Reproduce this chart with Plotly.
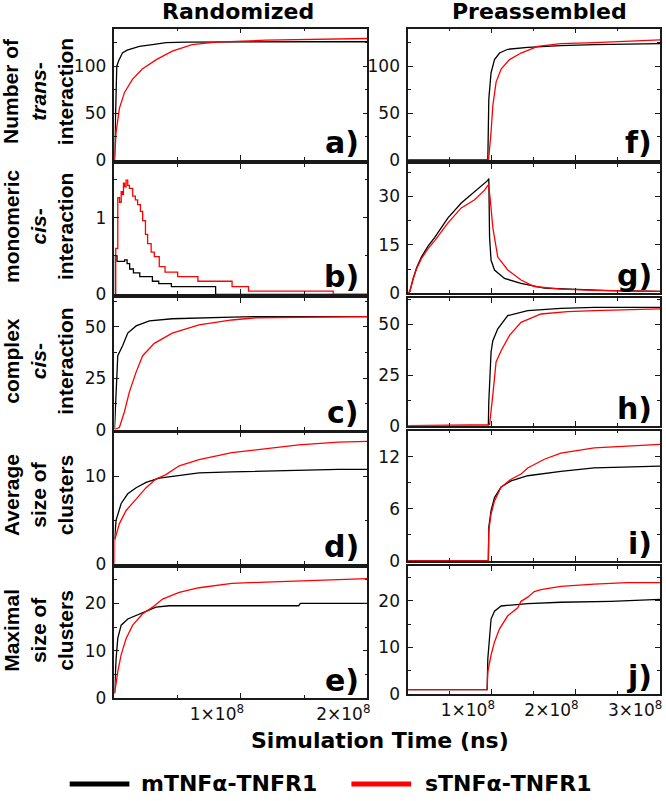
import plotly.graph_objects as go

# ---------------- DATA (time in ns) ----------------
# Randomized column
a_black_t = [0, 0.005e8, 0.013e8, 0.018e8, 0.034e8, 0.063e8, 0.10e8, 0.197e8, 0.30e8, 0.409e8, 0.567e8, 1.0e8, 1.5e8, 2.0e8]
a_black_y = [0, 35, 72, 100, 106, 114, 117, 121, 123, 125, 125.6, 126, 126, 126]
a_red_t = [0, 0.013e8, 0.039e8, 0.079e8, 0.142e8, 0.220e8, 0.331e8, 0.457e8, 0.614e8, 0.803e8, 1.197e8, 1.717e8, 2.0e8]
a_red_y = [0, 30, 55, 72, 86, 97, 107, 116, 123, 125.6, 127.7, 129, 129.5]

b_black_t = [0, 0.006e8, 0.02e8, 0.04e8, 0.08e8, 0.10e8, 0.12e8, 0.15e8, 0.20e8, 0.30e8, 0.35e8, 0.45e8, 0.80e8, 2.0e8]
b_black_y = [0, 0.50, 0.43, 0.43, 0.45, 0.40, 0.33, 0.28, 0.23, 0.17, 0.14, 0.10, 0, 0]
b_red_t = [0, 0.010e8, 0.026e8, 0.040e8, 0.053e8, 0.062e8, 0.071e8, 0.080e8, 0.092e8, 0.105e8, 0.118e8, 0.144e8,
           0.165e8, 0.183e8, 0.205e8, 0.223e8, 0.245e8, 0.262e8, 0.290e8, 0.315e8, 0.354e8, 0.40e8, 0.50e8,
           0.66e8, 0.93e8, 1.06e8, 1.73e8, 2.0e8]
b_red_y = [0, 0.6, 1.26, 1.20, 1.34, 1.30, 1.45, 1.40, 1.49, 1.42, 1.38, 1.28, 1.23, 1.17, 1.08, 0.96, 0.78,
           0.66, 0.55, 0.49, 0.36, 0.29, 0.23, 0.17, 0.10, 0.04, 0, 0]

c_black_t = [0, 0.008e8, 0.013e8, 0.026e8, 0.065e8, 0.105e8, 0.171e8, 0.276e8, 0.457e8, 0.669e8, 0.929e8, 1.118e8, 2.0e8]
c_black_y = [0, 12, 25, 36, 41, 47, 50.5, 53, 54, 54.5, 54.8, 55, 55]
c_red_t = [0, 0.039e8, 0.079e8, 0.118e8, 0.171e8, 0.223e8, 0.315e8, 0.457e8, 0.669e8, 0.929e8, 1.118e8, 2.0e8]
c_red_y = [0, 1, 8.8, 18.4, 28, 36, 42, 47, 51, 53.4, 54.5, 55]

d_black_t = [0, 0.013e8, 0.053e8, 0.105e8, 0.171e8, 0.250e8, 0.354e8, 0.457e8, 0.669e8, 0.929e8, 1.457e8, 1.772e8, 2.0e8]
d_black_y = [2.8, 5.0, 6.9, 8.0, 8.7, 9.3, 9.8, 10.0, 10.4, 10.5, 10.7, 10.8, 10.8]
d_red_t = [0, 0.001e8, 0.039e8, 0.092e8, 0.171e8, 0.250e8, 0.328e8, 0.407e8, 0.512e8, 0.669e8, 0.929e8, 1.197e8, 1.457e8, 1.772e8, 2.0e8]
d_red_y = [0, 2.7, 4.6, 6.1, 7.4, 8.7, 9.7, 10.2, 11.2, 11.9, 12.7, 13.2, 13.6, 13.9, 14.0]

e_black_t = [0, 0.004e8, 0.013e8, 0.026e8, 0.053e8, 0.105e8, 0.197e8, 0.328e8, 0.433e8, 1.0e8, 1.457e8, 1.47e8, 2.0e8]
e_black_y = [1, 5, 8.4, 12.6, 15.4, 16.7, 17.8, 19.2, 19.5, 19.5, 19.5, 20, 20]
e_red_t = [0, 0.004e8, 0.026e8, 0.053e8, 0.092e8, 0.144e8, 0.223e8, 0.302e8, 0.380e8, 0.407e8, 0.512e8, 0.669e8, 0.929e8, 1.197e8, 1.457e8, 1.772e8, 2.0e8]
e_red_y = [1, 1.5, 5.6, 9.2, 12.6, 15.4, 17.8, 19.2, 20.9, 21.2, 22.3, 23.3, 24.2, 24.5, 24.7, 25.1, 25.2]

# Preassembled column
f_black_t = [0, 0.952e8, 0.964e8, 0.980e8, 0.991e8, 1.032e8, 1.092e8, 1.190e8, 1.429e8, 1.821e8, 2.226e8, 3.01e8]
f_black_y = [0, 0, 65, 83, 93, 107, 114, 118, 120, 122, 123, 124]
f_red_t = [0, 0.961e8, 0.991e8, 1.012e8, 1.051e8, 1.111e8, 1.211e8, 1.349e8, 1.548e8, 1.821e8, 2.226e8, 3.01e8]
f_red_y = [0, 0, 30, 58, 83, 97, 107, 114, 121, 124, 125, 128]

g_black_t = [0, 0.020e8, 0.06e8, 0.10e8, 0.158e8, 0.238e8, 0.318e8, 0.476e8, 0.635e8, 0.794e8, 0.952e8, 0.964e8, 0.973e8,
             0.991e8, 1.032e8, 1.151e8, 1.349e8, 1.627e8, 2.024e8, 2.417e8, 3.01e8]
g_black_y = [0, 0.6, 4.6, 7.8, 11.2, 14.6, 17.3, 23.3, 27.9, 31.4, 34.9, 35.5, 17.3, 10.2, 7.2, 4.6, 3.1, 1.6, 1.1, 0.8, 0.6]
g_red_t = [0, 0.020e8, 0.06e8, 0.10e8, 0.158e8, 0.238e8, 0.318e8, 0.476e8, 0.635e8, 0.794e8, 0.913e8, 0.961e8, 0.980e8,
           1.012e8, 1.071e8, 1.190e8, 1.349e8, 1.508e8, 1.825e8, 2.226e8, 3.01e8]
g_red_y = [0, 0.6, 4.4, 7.5, 10.7, 13.8, 16.3, 21.8, 26.4, 28.9, 31.9, 33.6, 29.4, 20.3, 11.2, 7.2, 4.1, 2.1, 1.3, 0.9, 0.6]

h_black_t = [0, 0.958e8, 0.964e8, 0.980e8, 0.991e8, 1.012e8, 1.071e8, 1.190e8, 1.429e8, 1.825e8, 2.226e8, 3.01e8]
h_black_y = [0, 0, 11.9, 28.3, 36.4, 42, 47.9, 54.4, 56.9, 58, 58.5, 58.5]
h_red_t = [0, 0.973e8, 1.012e8, 1.051e8, 1.111e8, 1.211e8, 1.349e8, 1.587e8, 1.905e8, 2.226e8, 3.01e8]
h_red_y = [0, 0.5, 15.2, 31.5, 37, 44.6, 51.1, 55.2, 56.4, 56.9, 57.7]

i_black_t = [0, 0.958e8, 0.964e8, 0.991e8, 1.032e8, 1.111e8, 1.230e8, 1.429e8, 1.825e8, 2.223e8, 3.01e8]
i_black_y = [0, 0, 3.9, 5.8, 7.3, 8.5, 9.2, 9.8, 10.3, 10.7, 10.9]
i_red_t = [0, 0.958e8, 0.964e8, 0.991e8, 1.032e8, 1.111e8, 1.230e8, 1.349e8, 1.429e8, 1.627e8, 1.825e8, 2.223e8, 2.619e8, 3.01e8]
i_red_y = [0, 0, 3.5, 5.4, 6.9, 8.5, 9.4, 10.0, 10.7, 11.7, 12.4, 13.0, 13.2, 13.4]

j_black_t = [0, 0.944e8, 0.952e8, 0.973e8, 0.991e8, 1.032e8, 1.111e8, 1.230e8, 1.429e8, 1.825e8, 2.420e8, 3.01e8]
j_black_y = [1, 1, 7.6, 13.3, 16.1, 17.8, 18.9, 19.1, 19.4, 19.7, 19.9, 20.3]
j_red_t = [0, 0.944e8, 0.952e8, 0.991e8, 1.032e8, 1.092e8, 1.190e8, 1.310e8, 1.349e8, 1.429e8, 1.508e8, 1.587e8, 1.825e8, 2.223e8, 2.619e8, 3.01e8]
j_red_y = [1, 1, 4.8, 8.4, 11.2, 14, 16.8, 18.5, 19.9, 20.8, 22, 22.4, 23.1, 23.6, 23.9, 23.9]

column_titles = ["Randomized", "Preassembled"]
row_titles = ["Number of<br><i>trans</i>-<br>interaction",
              "monomeric<br><i>cis</i>-<br>interaction",
              "complex<br><i>cis</i>-<br>interaction",
              "Average<br>size of<br>clusters",
              "Maximal<br>size of<br>clusters"]
panel_letters = ["a)", "b)", "c)", "d)", "e)", "f)", "g)", "h)", "i)", "j)"]
series_names = ["mTNFα-TNFR1", "sTNFα-TNFR1"]
x_axis_title = "Simulation Time (ns)"
left_xtick_vals = [1e8, 2e8]
left_xtick_text = ["1×10<sup>8</sup>", "2×10<sup>8</sup>"]
right_xtick_vals = [1e8, 2e8, 3e8]
right_xtick_text = ["1×10<sup>8</sup>", "2×10<sup>8</sup>", "3×10<sup>8</sup>"]

# ---------------- LAYOUT ----------------
W, H = 666, 801
def fx(p): return p / W
def fy(p): return 1 - p / H

left_x = (115, 369)
right_x = (410, 663)
left_rows = [(29, 162), (166, 298), (302, 435), (438, 571), (575, 707)]
right_rows = [(29, 162), (166, 297), (302, 431), (436, 568), (573, 703)]

# (range max, major dtick, minor dtick)
yspecs = [(140, 50, 25), (1.7, 1, 0.5), (64, 25, 12.5), (15, 10, 5), (27.5, 10, 5),
          (140, 50, 25), (40, 15, 7.5), (63, 25, 12.5), (15, 6, 3), (27.5, 10, 5)]

series = [(a_black_t, a_black_y, a_red_t, a_red_y), (b_black_t, b_black_y, b_red_t, b_red_y),
          (c_black_t, c_black_y, c_red_t, c_red_y), (d_black_t, d_black_y, d_red_t, d_red_y),
          (e_black_t, e_black_y, e_red_t, e_red_y), (f_black_t, f_black_y, f_red_t, f_red_y),
          (g_black_t, g_black_y, g_red_t, g_red_y), (h_black_t, h_black_y, h_red_t, h_red_y),
          (i_black_t, i_black_y, i_red_t, i_red_y), (j_black_t, j_black_y, j_red_t, j_red_y)]

FONT = "DejaVu Sans"
AXC = "#1a1a1a"
fig = go.Figure()
layout = {}
annotations = []

for k in range(10):
    n = k + 1
    left = k < 5
    row = k % 5
    xs = left_x if left else right_x
    rows = left_rows if left else right_rows
    top, bot = rows[row]
    xname = "x" if n == 1 else f"x{n}"
    yname = "y" if n == 1 else f"y{n}"
    bt, by, rt, ry = series[k]
    shape = "hv" if k == 1 else "linear"
    fig.add_trace(go.Scatter(x=bt, y=by, mode="lines", line=dict(color="#000000", width=1.3, shape=shape),
                             xaxis=xname, yaxis=yname, showlegend=False, hoverinfo="skip"))
    fig.add_trace(go.Scatter(x=rt, y=ry, mode="lines", line=dict(color="#ff0000", width=1.3, shape=shape),
                             xaxis=xname, yaxis=yname, showlegend=False, hoverinfo="skip"))
    bottom_row = row == 4
    xmax = 2.0e8 if left else 3.01e8
    layout["xaxis" if n == 1 else f"xaxis{n}"] = dict(
        domain=[fx(xs[0]), fx(xs[1])], range=[0, xmax], anchor=yname,
        showline=True, linecolor=AXC, linewidth=1.6, mirror="ticks",
        ticks="inside", ticklen=5, tickwidth=1.3, tickcolor=AXC,
        tickmode="array",
        tickvals=left_xtick_vals if left else right_xtick_vals,
        ticktext=left_xtick_text if left else right_xtick_text,
        showticklabels=bottom_row, ticklabelshift=-24,
        tickfont=dict(family=FONT, size=17, color="#111"),
        minor=dict(ticks="inside", ticklen=3, tickwidth=1.2, tickcolor=AXC, tickmode="array",
                   tickvals=[0.5e8, 1.5e8, 2.5e8]),
        showgrid=False, zeroline=False, fixedrange=True)
    ymax, dt, mdt = yspecs[k]
    layout["yaxis" if n == 1 else f"yaxis{n}"] = dict(
        domain=[fy(bot), fy(top)], range=[0, ymax], anchor=xname,
        showline=True, linecolor=AXC, linewidth=1.6, mirror="ticks",
        ticks="inside", ticklen=5, tickwidth=1.3, tickcolor=AXC,
        tickmode="linear", tick0=0, dtick=dt,
        tickfont=dict(family=FONT, size=17, color="#111"), ticklabelstandoff=3,
        minor=dict(ticks="inside", ticklen=3, tickwidth=1.2, tickcolor=AXC, tick0=0, dtick=mdt),
        showgrid=False, zeroline=False, fixedrange=True)
    annotations.append(dict(
        text=f"<b>{panel_letters[k]}</b>", xref=f"{xname} domain", yref=f"{yname} domain",
        x=1, y=0, xanchor="right", yanchor="bottom", xshift=-6, yshift=-2, showarrow=False,
        font=dict(family=FONT, size=30, color="#000")))
    if left:
        annotations.append(dict(
            text=f"<b>{row_titles[row]}</b>", xref="paper", yref="paper",
            x=fx(39), y=fy((top + bot) / 2 - 3), xanchor="center", yanchor="middle",
            textangle=-90, showarrow=False,
            font=dict(family="Liberation Sans", size=21, color="#000")))

annotations.append(dict(text=f"<b>{column_titles[0]}</b>", xref="paper", yref="paper",
                        x=fx(239), y=fy(12), xanchor="center", yanchor="middle", showarrow=False,
                        font=dict(family=FONT, size=22, color="#000")))
annotations.append(dict(text=f"<b>{column_titles[1]}</b>", xref="paper", yref="paper",
                        x=fx(542), y=fy(12), xanchor="center", yanchor="middle", showarrow=False,
                        font=dict(family=FONT, size=22, color="#000")))
annotations.append(dict(text=f"<b>{x_axis_title}</b>", xref="paper", yref="paper",
                        x=fx(382), y=fy(750), xanchor="center", yanchor="middle", showarrow=False,
                        font=dict(family=FONT, size=22, color="#000")))

# legend (drawn manually)
shapes = []
legend_items = [(70, 130, 140, "#000000", series_names[0]), (353, 413, 425, "#ff0000", series_names[1])]
for x0, x1, xt, col, name in legend_items:
    shapes.append(dict(type="line", xref="paper", yref="paper", x0=fx(x0), x1=fx(x1),
                       y0=fy(794), y1=fy(794), line=dict(color=col, width=5)))
    annotations.append(dict(text=f"<b>{name}</b>", xref="paper", yref="paper",
                            x=fx(xt), y=fy(793), xanchor="left", yanchor="middle", showarrow=False,
                            font=dict(family=FONT, size=22, color="#000")))

fig.update_layout(width=W, height=H, margin=dict(l=0, r=0, t=0, b=0),
                  paper_bgcolor="white", plot_bgcolor="white",
                  annotations=annotations, shapes=shapes, showlegend=False, **layout)

fig.write_html("out.html", config={"displayModeBar": False},
               post_script="document.body.style.margin='0';document.body.style.overflow='hidden';")
